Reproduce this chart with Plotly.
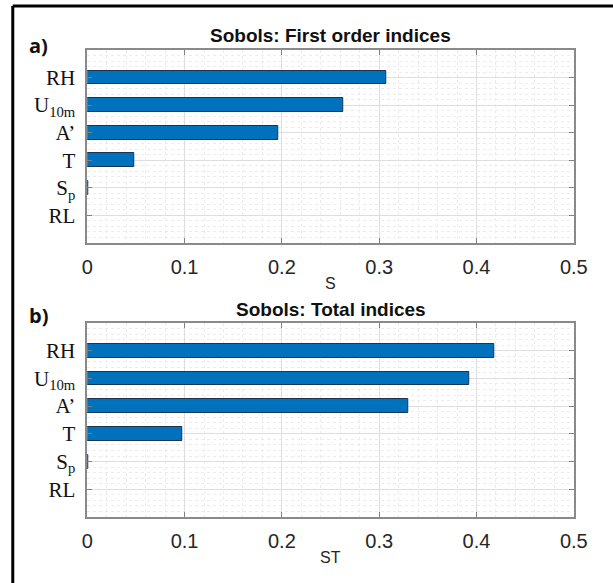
import plotly.graph_objects as go

W, H = 613, 583

# Input parameters (top to bottom) and their Sobol sensitivity indices
params = ["RH", "U<sub>10m</sub>", "A’", "T", "S<sub>p</sub>", "RL"]
first_order = [0.307, 0.263, 0.196, 0.048, 0.001, 0.0]
total_order = [0.418, 0.393, 0.330, 0.098, 0.001, 0.0]
x_ticks = [0, 0.1, 0.2, 0.3, 0.4, 0.5]

panels = [
    dict(vals=first_order, title="Sobols: First order indices", xlabel="S", tag="a)",
         top=50, bottom=243, title_y=35, xlabel_y=283, tag_y=45),
    dict(vals=total_order, title="Sobols: Total indices", xlabel="ST", tag="b)",
         top=323, bottom=517, title_y=309, xlabel_y=557, tag_y=315),
]

left_px, right_px = 84, 587
ypos = list(range(1, len(params) + 1))

fig = go.Figure()
annotations = []
for i, p in enumerate(panels, start=1):
    xa = "x" if i == 1 else f"x{i}"
    ya = "y" if i == 1 else f"y{i}"
    # zero-valued bars get no outline so nothing is drawn for them
    edge_w = [1 if v > 0 else 0 for v in p["vals"]]
    fig.add_trace(go.Bar(
        x=p["vals"], y=ypos, orientation="h", width=0.5,
        marker=dict(color="#0072BD", line=dict(color="#1b3550", width=edge_w)),
        xaxis=xa, yaxis=ya, showlegend=False,
    ))
    dom_x = [left_px / W, right_px / W]
    dom_y = [1 - p["bottom"] / H, 1 - p["top"] / H]
    xkey = "xaxis" if i == 1 else f"xaxis{i}"
    ykey = "yaxis" if i == 1 else f"yaxis{i}"
    fig.layout[xkey] = dict(
        domain=dom_x, anchor=ya, range=[0, 0.5], tickvals=x_ticks,
        ticktext=[f"{v:g}" for v in x_ticks],
        ticks="inside", ticklen=5, tickcolor="#808080", mirror="allticks",
        showline=True, linecolor="#8a8a8a", linewidth=1.5,
        showgrid=True, gridcolor="#dedede", gridwidth=1,
        minor=dict(dtick=0.02, showgrid=True, gridcolor="#ececec", griddash="dot", ticks=""),
        tickfont=dict(family="Liberation Sans, Arial", size=20, color="#262626"),
        ticklabelstandoff=5, zeroline=False, fixedrange=True,
    )
    fig.layout[ykey] = dict(
        domain=dom_y, anchor=xa, range=[len(params) + 1, 0],
        tickvals=ypos, ticktext=params,
        ticks="inside", ticklen=5, tickcolor="#808080", mirror="allticks",
        showline=True, linecolor="#8a8a8a", linewidth=1.5,
        showgrid=True, gridcolor="#dedede", gridwidth=1,
        minor=dict(dtick=0.2, showgrid=True, gridcolor="#ececec", griddash="dot", ticks=""),
        tickfont=dict(family="Liberation Serif, Times New Roman", size=21, color="#111111"),
        ticklabelstandoff=6, zeroline=False, fixedrange=True,
    )
    cx = (left_px + right_px) / 2 / W
    annotations += [
        dict(text=f"<b>{p['title']}</b>", x=cx, y=1 - p["title_y"] / H,
             xref="paper", yref="paper", showarrow=False, xanchor="center", yanchor="middle",
             font=dict(family="Liberation Sans, Arial", size=19, color="#111111")),
        dict(text=p["xlabel"], x=cx, y=1 - p["xlabel_y"] / H,
             xref="paper", yref="paper", showarrow=False, xanchor="center", yanchor="middle",
             font=dict(family="Liberation Sans, Arial", size=16, color="#262626")),
        dict(text=f"<b>{p['tag']}</b>", x=22 / W, y=1 - p["tag_y"] / H,
             xref="paper", yref="paper", showarrow=False, xanchor="left", yanchor="middle",
             font=dict(family="Open Sans, Liberation Sans", size=20, color="#111111")),
    ]

# frame around the figure (left and top edges visible)
shapes = [
    dict(type="line", xref="paper", yref="paper", x0=7 / W, x1=1.05, y0=1 - 6 / H, y1=1 - 6 / H,
         line=dict(color="black", width=3)),
    dict(type="line", xref="paper", yref="paper", x0=7 / W, x1=7 / W, y0=1 - 6 / H, y1=-0.05,
         line=dict(color="black", width=3)),
]

fig.update_layout(
    width=W, height=H, margin=dict(l=0, r=0, t=0, b=0),
    paper_bgcolor="white", plot_bgcolor="white",
    annotations=annotations, shapes=shapes, bargap=0,
)

fig.write_html("out.html")
